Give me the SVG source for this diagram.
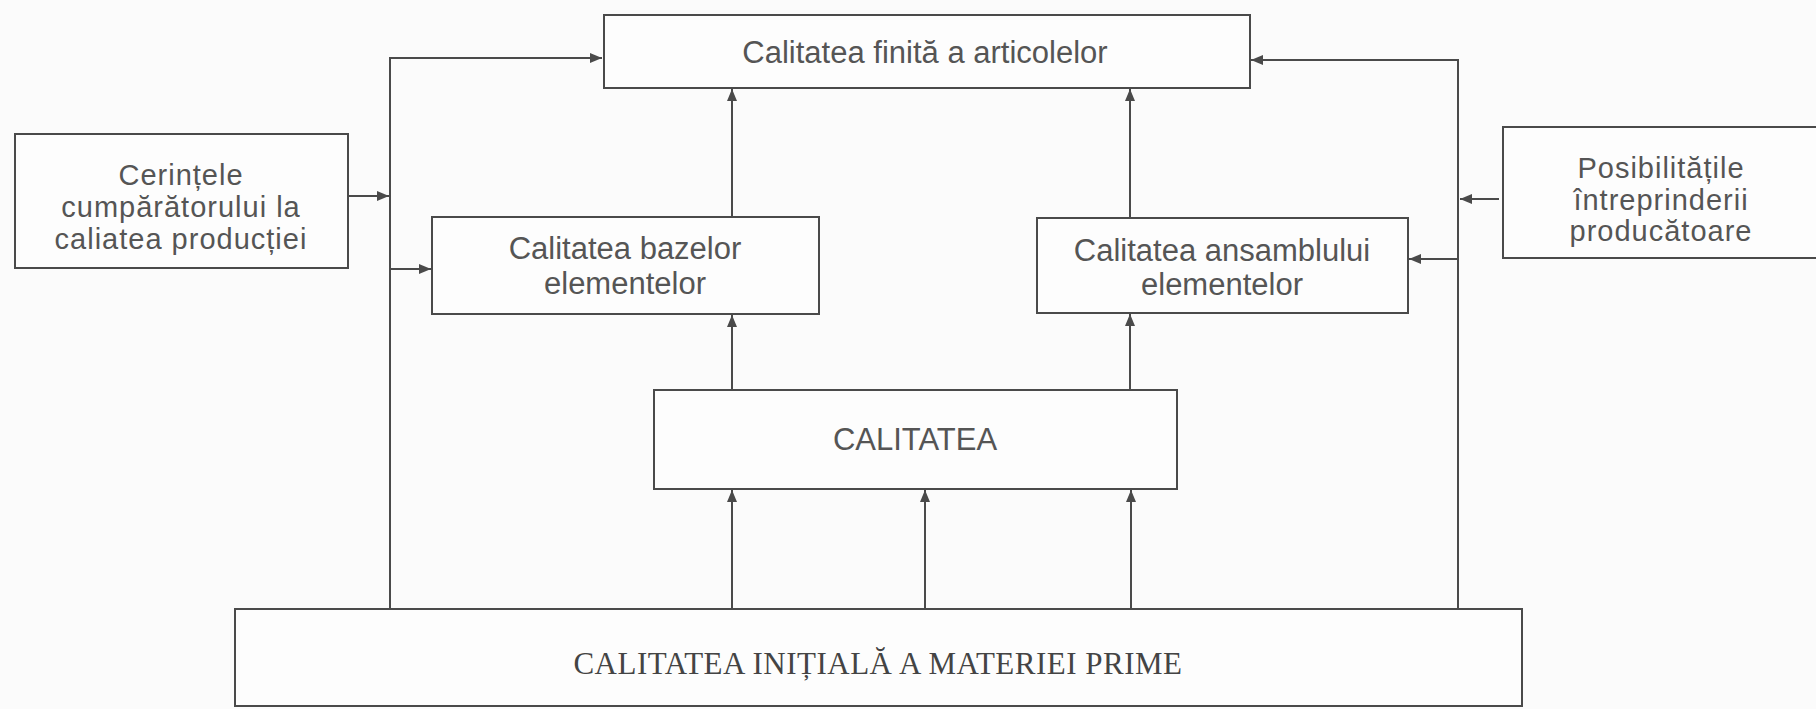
<svg xmlns="http://www.w3.org/2000/svg" width="1816" height="709" viewBox="0 0 1816 709">
<style>
.box{fill:#fdfdfd;stroke:#4a4a4a;stroke-width:2}
.t{font-family:"Liberation Sans",Arial,sans-serif;font-size:31px;fill:#555;text-anchor:middle}
.ts{font-size:29px;letter-spacing:1px}
.serif{font-family:"Liberation Serif","Times New Roman",serif;font-size:31px;fill:#444;text-anchor:middle;letter-spacing:0.5px}
.c{fill:none;stroke:#4a4a4a;stroke-width:2}
</style>
<defs>
<marker id="ah" viewBox="0 0 12 10" refX="12" refY="5" markerWidth="12" markerHeight="10" markerUnits="userSpaceOnUse" orient="auto">
<path d="M0,0 L12,5 L0,10 Z" fill="#4a4a4a"/>
</marker>
</defs>
<rect width="1816" height="709" fill="#fbfbfb"/>
<g id="connectors">
<path class="c" d="M390,609 V58 H602" marker-end="url(#ah)"/>
<path class="c" d="M1458,609 V60 H1251" marker-end="url(#ah)"/>
<path class="c" d="M348,196 H389" marker-end="url(#ah)"/>
<path class="c" d="M390,269 H431" marker-end="url(#ah)"/>
<path class="c" d="M1499,199 H1460" marker-end="url(#ah)"/>
<path class="c" d="M1458,259 H1409" marker-end="url(#ah)"/>
<path class="c" d="M732,217 V89" marker-end="url(#ah)"/>
<path class="c" d="M1130,218 V89" marker-end="url(#ah)"/>
<path class="c" d="M732,390 V315" marker-end="url(#ah)"/>
<path class="c" d="M1130,390 V314" marker-end="url(#ah)"/>
<path class="c" d="M732,609 V490" marker-end="url(#ah)"/>
<path class="c" d="M925,609 V490" marker-end="url(#ah)"/>
<path class="c" d="M1131,609 V490" marker-end="url(#ah)"/>
</g>
<g id="node-finita">
<rect class="box" x="604" y="15" width="646" height="73"/>
<text class="t" x="925" y="63">Calitatea finită a articolelor</text>
</g>
<g id="node-cerintele">
<rect class="box" x="15" y="134" width="333" height="134"/>
<text class="t ts" x="181" y="185">Cerințele</text>
<text class="t ts" x="181" y="217">cumpărătorului la</text>
<text class="t ts" x="181" y="249">caliatea producției</text>
</g>
<g id="node-posibilitatile">
<rect class="box" x="1503" y="127" width="320" height="131"/>
<text class="t ts" x="1661" y="178">Posibilitățile</text>
<text class="t ts" x="1661" y="210">întreprinderii</text>
<text class="t ts" x="1661" y="241">producătoare</text>
</g>
<g id="node-bazelor">
<rect class="box" x="432" y="217" width="387" height="97"/>
<text class="t" x="625" y="259">Calitatea bazelor</text>
<text class="t" x="625" y="294">elementelor</text>
</g>
<g id="node-ansamblului">
<rect class="box" x="1037" y="218" width="371" height="95"/>
<text class="t" x="1222" y="261">Calitatea ansamblului</text>
<text class="t" x="1222" y="295">elementelor</text>
</g>
<g id="node-calitatea">
<rect class="box" x="654" y="390" width="523" height="99"/>
<text class="t" x="915" y="450">CALITATEA</text>
</g>
<g id="node-materie">
<rect class="box" x="235" y="609" width="1287" height="97"/>
<text class="serif" x="878" y="674">CALITATEA INIȚIALĂ A MATERIEI PRIME</text>
</g>
</svg>
